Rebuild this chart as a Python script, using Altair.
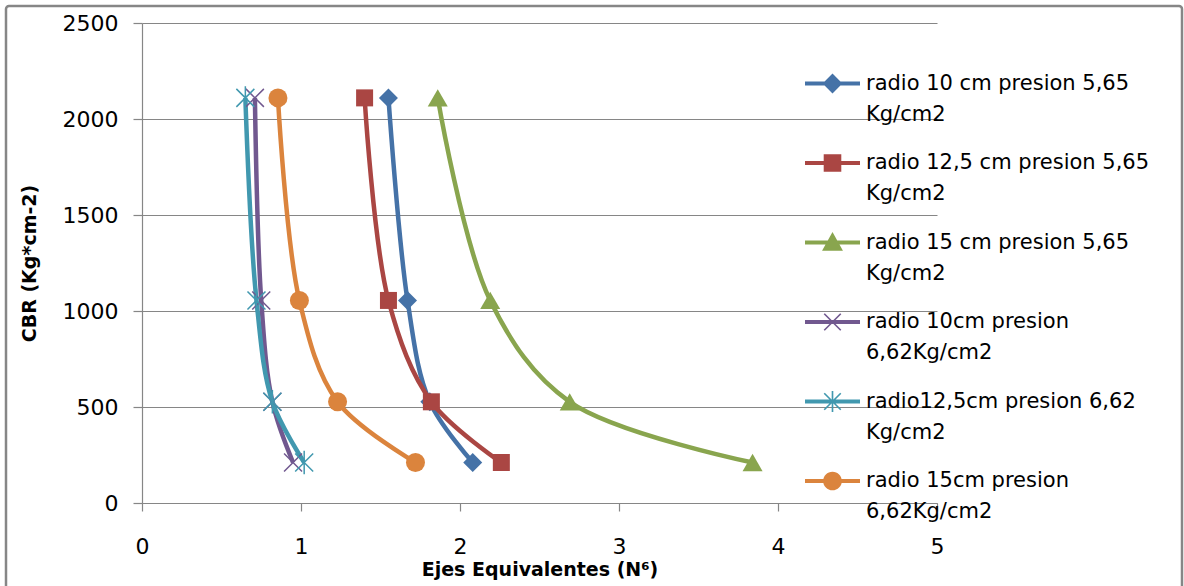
import altair as alt
import pandas as pd

# ---- data ----
series = [
    "radio 10 cm presion 5,65 Kg/cm2",
    "radio 12,5 cm presion 5,65 Kg/cm2",
    "radio 15 cm presion 5,65 Kg/cm2",
    "radio 10cm presion 6,62Kg/cm2",
    "radio12,5cm presion 6,62 Kg/cm2",
    "radio 15cm presion 6,62Kg/cm2",
]
cbr = [2110, 1055, 527, 211]
ejes_r10_565 = [1.55, 1.67, 1.81, 2.08]
ejes_r125_565 = [1.40, 1.55, 1.82, 2.26]
ejes_r15_565 = [1.86, 2.19, 2.69, 3.84]
ejes_r10_662 = [0.71, 0.75, 0.82, 0.95]
ejes_r125_662 = [0.65, 0.72, 0.82, 1.02]
ejes_r15_662 = [0.855, 0.99, 1.23, 1.72]

colors = ["#4572A7", "#AA4643", "#89A54E", "#71588F", "#4198AF", "#DB843D"]
x_ticks = [0, 1, 2, 3, 4, 5]
y_ticks = [0, 500, 1000, 1500, 2000, 2500]

all_x = [ejes_r10_565, ejes_r125_565, ejes_r15_565, ejes_r10_662, ejes_r125_662, ejes_r15_662]
rows = []
for s, xs in zip(series, all_x):
    for xv, yv in zip(xs, cbr):
        rows.append({"serie": s, "ejes": xv, "cbr": yv})
df = pd.DataFrame(rows)

# marker shapes in plot
plot_shapes = ["diamond", "square", "triangle-up",
               "M-1,-1L1,1M-1,1L1,-1",
               "M-1,-1L1,1M-1,1L1,-1M0,-1.3V1.3",
               "circle"]
plot_sizes = [361, 289, 400, 324, 324, 361]
plot_filled = [True, True, True, False, False, True]

# legend symbols: line + marker, drawn as filled paths
LINE = "M-1,-0.07H1V0.07H-1Z"
XARMS = ("M-0.279,-0.321L0.321,0.279L0.279,0.321L-0.321,-0.279Z"
         "M-0.321,0.279L0.279,-0.321L0.321,-0.279L-0.279,0.321Z")
legend_paths = [
    LINE + "M0,-0.36L0.36,0L0,0.36L-0.36,0Z",
    LINE + "M-0.32,-0.32H0.32V0.32H-0.32Z",
    LINE + "M0,-0.38L0.38,0.3H-0.38Z",
    LINE + XARMS,
    LINE + XARMS + "M-0.03,-0.38H0.03V0.38H-0.03Z",
    LINE + "M0.34,0A0.34,0.34,0,1,1,-0.34,0A0.34,0.34,0,1,1,0.34,0Z",
]

FONT = "DejaVu Sans"
GRAY = "#868686"

cscale = alt.Scale(domain=series, range=colors)

x_enc = alt.X("ejes:Q", scale=alt.Scale(domain=[0, 5], nice=False, zero=False),
              axis=alt.Axis(values=x_ticks, title="Ejes Equivalentes (N⁶)", grid=False,
                            tickSize=8, labelPadding=25, labelFontSize=22, labelFlush=False,
                            titleFontSize=19, titleFontWeight="bold",
                            titleY=57, titleBaseline="top"))
y_enc = alt.Y("cbr:Q", scale=alt.Scale(domain=[0, 2500], nice=False),
              axis=alt.Axis(values=y_ticks, format="d", title="CBR (Kg*cm-2)", grid=True,
                            tickSize=9, labelPadding=15, labelFontSize=22,
                            titleFontSize=19, titleFontWeight="bold",
                            titleX=-113, titleY=240, titleBaseline="middle"))

legend = alt.Legend(
    title=None, orient="none", legendX=663, legendY=33,
    labelExpr="[substring(datum.label, 0, lastindexof(datum.label, ' ')), substring(datum.label, lastindexof(datum.label, ' ') + 1)]",
    labelFont=FONT, labelFontSize=21, labelColor="#000000", labelLimit=400,
    labelBaseline="middle",
    labelOffset=6, symbolSize=3025, symbolStrokeWidth=0, symbolOpacity=1,
    rowPadding=10.5,
)

frame = alt.Chart(alt.Data(values=[{}])).mark_rect(
    fill="white", fillOpacity=0, stroke=GRAY, strokeWidth=2.5, cornerRadius=3
).encode(x=alt.value(-136), x2=alt.value(1040), y=alt.value(-17), y2=alt.value(575))

legend_layer = alt.Chart(df).transform_filter("false").mark_point(filled=True, opacity=1).encode(
    x=x_enc, y=y_enc,
    color=alt.Color("serie:N", scale=cscale, legend=legend),
    shape=alt.Shape("serie:N", scale=alt.Scale(domain=series, range=legend_paths), legend=legend),
)

lines = alt.Chart(df).mark_line(interpolate="catmull-rom", strokeWidth=4.5).encode(
    x=x_enc, y=y_enc,
    color=alt.Color("serie:N", scale=cscale),
    order=alt.Order("cbr:Q", sort="descending"),
)

point_layers = []
for i, s in enumerate(series):
    kw = dict(shape=plot_shapes[i], size=plot_sizes[i], filled=plot_filled[i], opacity=1)
    if not plot_filled[i]:
        kw["strokeWidth"] = 1.5
    point_layers.append(
        alt.Chart(df).transform_filter(alt.datum.serie == s).mark_point(**kw).encode(
            x=x_enc, y=y_enc,
            color=alt.Color("serie:N", scale=cscale),
        )
    )

chart = alt.layer(frame, legend_layer, lines, *point_layers).properties(
    width=795, height=480,
    autosize=alt.AutoSizeParams(type="none"),
    padding={"left": 142, "top": 23, "right": 247, "bottom": 83},
    background="white",
).configure(
    style={"guide-label": {"lineHeight": 31}}
).configure_view(stroke=None).configure_axis(
    labelFont=FONT, titleFont=FONT, labelColor="#000000", titleColor="#000000",
    domainColor=GRAY, tickColor=GRAY, gridColor=GRAY, gridWidth=1.2,
    domainWidth=1.2, tickWidth=1.2,
)

chart.save("out.html", embed_options={"renderer": "svg", "actions": False})
